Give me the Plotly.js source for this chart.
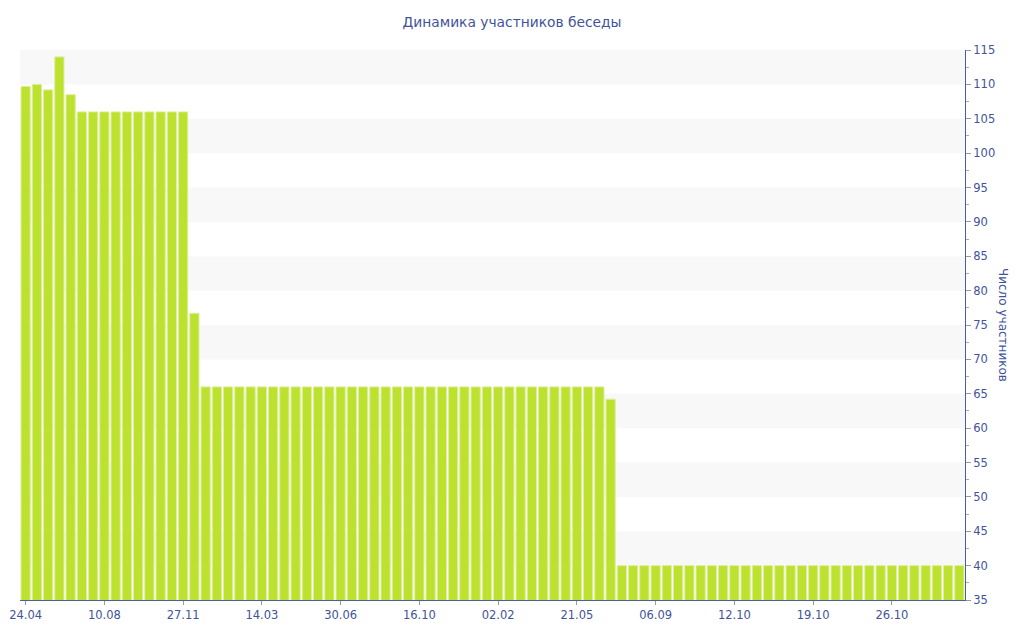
<!DOCTYPE html>
<html>
<head>
<meta charset="utf-8">
<script src="https://cdn.plot.ly/plotly-3.0.1.min.js"></script>
<style>html,body{margin:0;padding:0;background:#fff;}#chart{width:1024px;height:640px;}</style>
</head>
<body>
<div id="chart"></div>
<script>
const chartTitle = "Динамика участников беседы";
const yTitle = "Число участников";
const memberCounts = [
  109.7, 110, 109.2, 114, 108.5, 106, 106, 106, 106, 106,
  106, 106, 106, 106, 106, 76.7, 66, 66, 66, 66,
  66, 66, 66, 66, 66, 66, 66, 66, 66, 66,
  66, 66, 66, 66, 66, 66, 66, 66, 66, 66,
  66, 66, 66, 66, 66, 66, 66, 66, 66, 66,
  66, 66, 64.2, 40, 40, 40, 40, 40, 40, 40,
  40, 40, 40, 40, 40, 40, 40, 40, 40, 40,
  40, 40, 40, 40, 40, 40, 40, 40, 40, 40,
  40, 40, 40, 40
];
const tickPositions = [0, 7, 14, 21, 28, 35, 42, 49, 56, 63, 70, 77];
const tickLabels = ["24.04", "10.08", "27.11", "14.03", "30.06", "16.10", "02.02", "21.05", "06.09", "12.10", "19.10", "26.10"];
const yMin = 35, yMax = 115;

const xIdx = memberCounts.map((_, i) => i);
const axisColor = "#4a5ea8";
const textColor = "#43539a";
const font = "DejaVu Sans, Verdana, sans-serif";

// alternating background bands
const bands = [];
for (let v = yMax; v > yMin; v -= 10) {
  bands.push({type: "rect", xref: "paper", yref: "y", x0: 0, x1: 1, y0: v - 5, y1: v,
    fillcolor: "#f8f8f8", line: {width: 0}, layer: "below"});
}

const trace = {
  type: "bar",
  x: xIdx,
  y: memberCounts,
  marker: {color: "#bde12f", line: {color: "#dcef9a", width: 1}},
  hoverinfo: "y"
};

const layout = {
  width: 1024, height: 640,
  margin: {l: 20, r: 59, t: 50, b: 40},
  paper_bgcolor: "#fff", plot_bgcolor: "#fff",
  showlegend: false,
  bargap: 0.18,
  title: {text: chartTitle, x: 0.5, xanchor: "center", y: 0.965, yanchor: "middle",
    font: {family: font, size: 13.8, color: textColor}},
  xaxis: {
    range: [-0.5, memberCounts.length - 0.5],
    tickmode: "array", tickvals: tickPositions, ticktext: tickLabels,
    showgrid: false, zeroline: false,
    showline: true, linecolor: axisColor, linewidth: 1,
    ticks: "outside", ticklen: 4, tickcolor: "#999",
    tickfont: {family: font, size: 11.5, color: textColor}
  },
  yaxis: {
    side: "right",
    range: [yMin, yMax],
    tickmode: "linear", tick0: yMin, dtick: 5,
    showgrid: false, zeroline: false,
    showline: true, linecolor: axisColor, linewidth: 1,
    ticks: "outside", ticklen: 5, tickcolor: "#999",
    minor: {dtick: 2.5, ticks: "outside", ticklen: 3, tickcolor: "#aaa", showgrid: false},
    tickfont: {family: font, size: 11.5, color: textColor}
  },
  shapes: bands,
  annotations: [{
    text: yTitle, xref: "paper", yref: "paper", x: 1, y: 0.5,
    xshift: 47, textangle: 90, showarrow: false,
    font: {family: font, size: 12, color: textColor}
  }]
};

Plotly.newPlot("chart", [trace], layout, {displayModeBar: false, staticPlot: true});
</script>
</body>
</html>
